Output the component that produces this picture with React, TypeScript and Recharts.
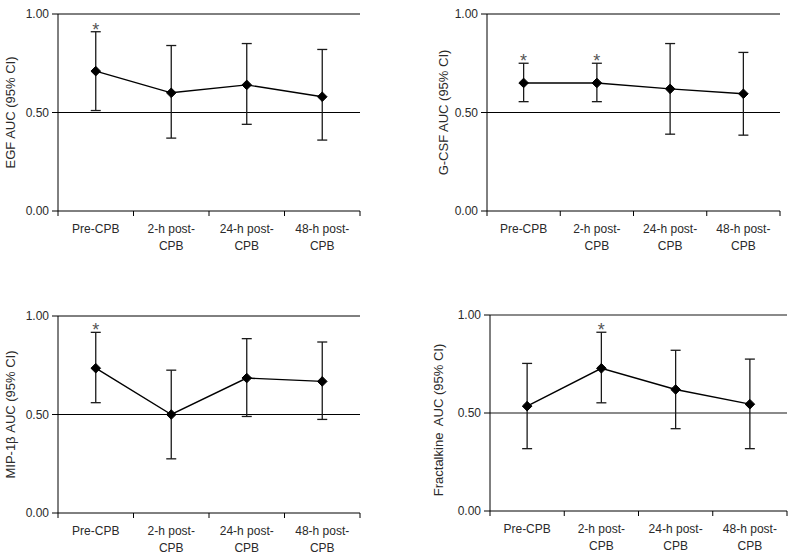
import React from 'react'
import {
  ComposedChart,
  Line,
  ErrorBar,
  XAxis,
  YAxis,
  ReferenceLine,
} from 'recharts'

const categories = ['Pre-CPB', '2-h post-CPB', '24-h post-CPB', '48-h post-CPB']
const yTicks = [0, 0.5, 1]
const gridValues = [0.5, 1]

// EGF
const egfAuc = [0.71, 0.6, 0.64, 0.58]
const egfLow = [0.51, 0.37, 0.44, 0.36]
const egfHigh = [0.91, 0.84, 0.85, 0.82]
const egfStar = [true, false, false, false]

// G-CSF
const gcsfAuc = [0.65, 0.65, 0.62, 0.595]
const gcsfLow = [0.555, 0.555, 0.39, 0.385]
const gcsfHigh = [0.75, 0.75, 0.85, 0.805]
const gcsfStar = [true, true, false, false]

// MIP-1β
const mipAuc = [0.735, 0.5, 0.685, 0.668]
const mipLow = [0.56, 0.275, 0.49, 0.475]
const mipHigh = [0.917, 0.725, 0.885, 0.868]
const mipStar = [true, false, false, false]

// Fractalkine
const fktAuc = [0.535, 0.728, 0.62, 0.545]
const fktLow = [0.318, 0.552, 0.42, 0.318]
const fktHigh = [0.753, 0.912, 0.82, 0.775]
const fktStar = [false, true, false, false]

const FONT = '"Liberation Sans", Arial, sans-serif'

const buildRows = (auc: number[], low: number[], high: number[], star: boolean[]) =>
  categories.map((name, i) => ({
    name,
    auc: auc[i],
    err: [auc[i] - low[i], high[i] - auc[i]],
    star: star[i] ? high[i] : null,
  }))

const Diamond = (props: any) => {
  const { cx, cy } = props
  if (cx == null || cy == null) return null
  const r = 4.8
  return (
    <polygon
      points={`${cx},${cy - r} ${cx + r},${cy} ${cx},${cy + r} ${cx - r},${cy}`}
      fill="#000"
      stroke="#000"
    />
  )
}

interface PanelProps {
  left: number
  top: number
  width: number
  height: number
  plotLeft: number
  plotRight: number
  plotTop: number
  plotBottom: number
  yLabel: string
  labelX: number
  labelDy?: number
  gridColor?: string
  gridWidth?: number
  rightBorder?: boolean
  auc: number[]
  low: number[]
  high: number[]
  star: boolean[]
}

const Panel: React.FC<PanelProps> = (p) => {
  const data = buildRows(p.auc, p.low, p.high, p.star)
  const plotW = p.plotRight - p.plotLeft
  const bandW = plotW / categories.length

  const CatTick = (props: any) => {
    const { x, y, payload, index } = props
    const label: string = payload.value
    const lines = label.includes('post-') ? label.replace('post-', 'post-\n').split('\n') : [label]
    return (
      <g>
        <line x1={x - bandW / 2} y1={y} x2={x - bandW / 2} y2={y + 5} stroke="#000" />
        {index === categories.length - 1 && (
          <line x1={x + bandW / 2} y1={y} x2={x + bandW / 2} y2={y + 5} stroke="#000" />
        )}
        <text x={x} y={y + 22} textAnchor="middle" fontSize={12} fill="#2a2a2a" fontFamily={FONT}>
          {lines.map((ln, i) => (
            <tspan key={i} x={x} dy={i === 0 ? 0 : 17.3}>
              {ln}
            </tspan>
          ))}
        </text>
      </g>
    )
  }

  const StarLabel = (props: any) => {
    const { x, y, value } = props
    if (value == null || x == null || y == null) return null
    return (
      <text x={x} y={y + 4} textAnchor="middle" fontSize={18} fill="#555" fontFamily={FONT}>
        *
      </text>
    )
  }

  return (
    <div style={{ position: 'absolute', left: p.left, top: p.top }}>
      <ComposedChart
        width={p.width}
        height={p.height}
        data={data}
        margin={{ top: p.plotTop, right: p.width - p.plotRight, left: 0, bottom: 0 }}
      >
        <XAxis
          dataKey="name"
          scale="band"
          height={p.height - p.plotBottom}
          tickSize={0}
          tickMargin={0}
          tickLine={false}
          axisLine={{ stroke: '#000' }}
          tick={<CatTick />}
          interval={0}
        />
        <YAxis
          domain={[0, 1]}
          ticks={yTicks}
          width={p.plotLeft}
          tickSize={6}
          tickMargin={3}
          tickLine={{ stroke: '#000' }}
          axisLine={{ stroke: '#000' }}
          tick={{ fontSize: 12, fill: '#2a2a2a', fontFamily: FONT }}
          tickFormatter={(v: number) => v.toFixed(2)}
          label={{
            content: (lp: any) => {
              const vb = lp.viewBox
              const cx = vb.x + p.labelX
              const cy = vb.y + vb.height / 2 + (p.labelDy || 0)
              return (
                <text
                  x={cx}
                  y={cy}
                  transform={`rotate(-90, ${cx}, ${cy})`}
                  textAnchor="middle"
                  dominantBaseline="central"
                  fontSize={13}
                  fill="#2a2a2a"
                  fontFamily={FONT}
                  style={{ whiteSpace: 'pre' }}
                >
                  {p.yLabel}
                </text>
              )
            },
          }}
        />
        {p.rightBorder && (
          <YAxis
            yAxisId="r"
            orientation="right"
            width={0}
            domain={[0, 1]}
            tick={false}
            tickLine={false}
            axisLine={{ stroke: '#d4d4d4', strokeWidth: 1.5 }}
          />
        )}
        {gridValues.map((v) => (
          <ReferenceLine
            key={v}
            y={v}
            stroke={p.gridColor || '#000'}
            strokeWidth={p.gridWidth || 1}
          />
        ))}
        <Line
          dataKey="auc"
          stroke="#000"
          strokeWidth={1.4}
          dot={<Diamond />}
          activeDot={false}
          isAnimationActive={false}
        >
          <ErrorBar dataKey="err" width={5} stroke="#1a1a1a" strokeWidth={1.3} />
        </Line>
        <Line
          dataKey="star"
          stroke="none"
          dot={false}
          activeDot={false}
          isAnimationActive={false}
          label={<StarLabel />}
        />
      </ComposedChart>
    </div>
  )
}

export default function App() {
  return (
    <div
      style={{
        position: 'absolute',
        left: 0,
        top: 0,
        width: 791,
        height: 556,
        background: '#fff',
        overflow: 'hidden',
      }}
    >
      <Panel
        left={0}
        top={0}
        width={395}
        height={270}
        plotLeft={58}
        plotRight={360}
        plotTop={14}
        plotBottom={211}
        yLabel="EGF AUC (95% CI)"
        labelX={10}
        rightBorder
        auc={egfAuc}
        low={egfLow}
        high={egfHigh}
        star={egfStar}
      />
      <Panel
        left={400}
        top={0}
        width={391}
        height={270}
        plotLeft={87}
        plotRight={380}
        plotTop={14}
        plotBottom={211}
        yLabel="G-CSF AUC (95% CI)"
        labelX={43}
        auc={gcsfAuc}
        low={gcsfLow}
        high={gcsfHigh}
        star={gcsfStar}
      />
      <Panel
        left={0}
        top={280}
        width={395}
        height={276}
        plotLeft={58}
        plotRight={360}
        plotTop={36}
        plotBottom={233}
        yLabel="MIP-1β AUC (95% CI)"
        labelX={10}
        rightBorder
        auc={mipAuc}
        low={mipLow}
        high={mipHigh}
        star={mipStar}
      />
      <Panel
        left={400}
        top={280}
        width={391}
        height={276}
        plotLeft={90}
        plotRight={387}
        plotTop={35}
        plotBottom={231}
        yLabel="Fractalkine  AUC (95% CI)"
        labelX={38}
        labelDy={7}
        gridColor="#8a8a8a"
        gridWidth={2}
        auc={fktAuc}
        low={fktLow}
        high={fktHigh}
        star={fktStar}
      />
    </div>
  )
}
